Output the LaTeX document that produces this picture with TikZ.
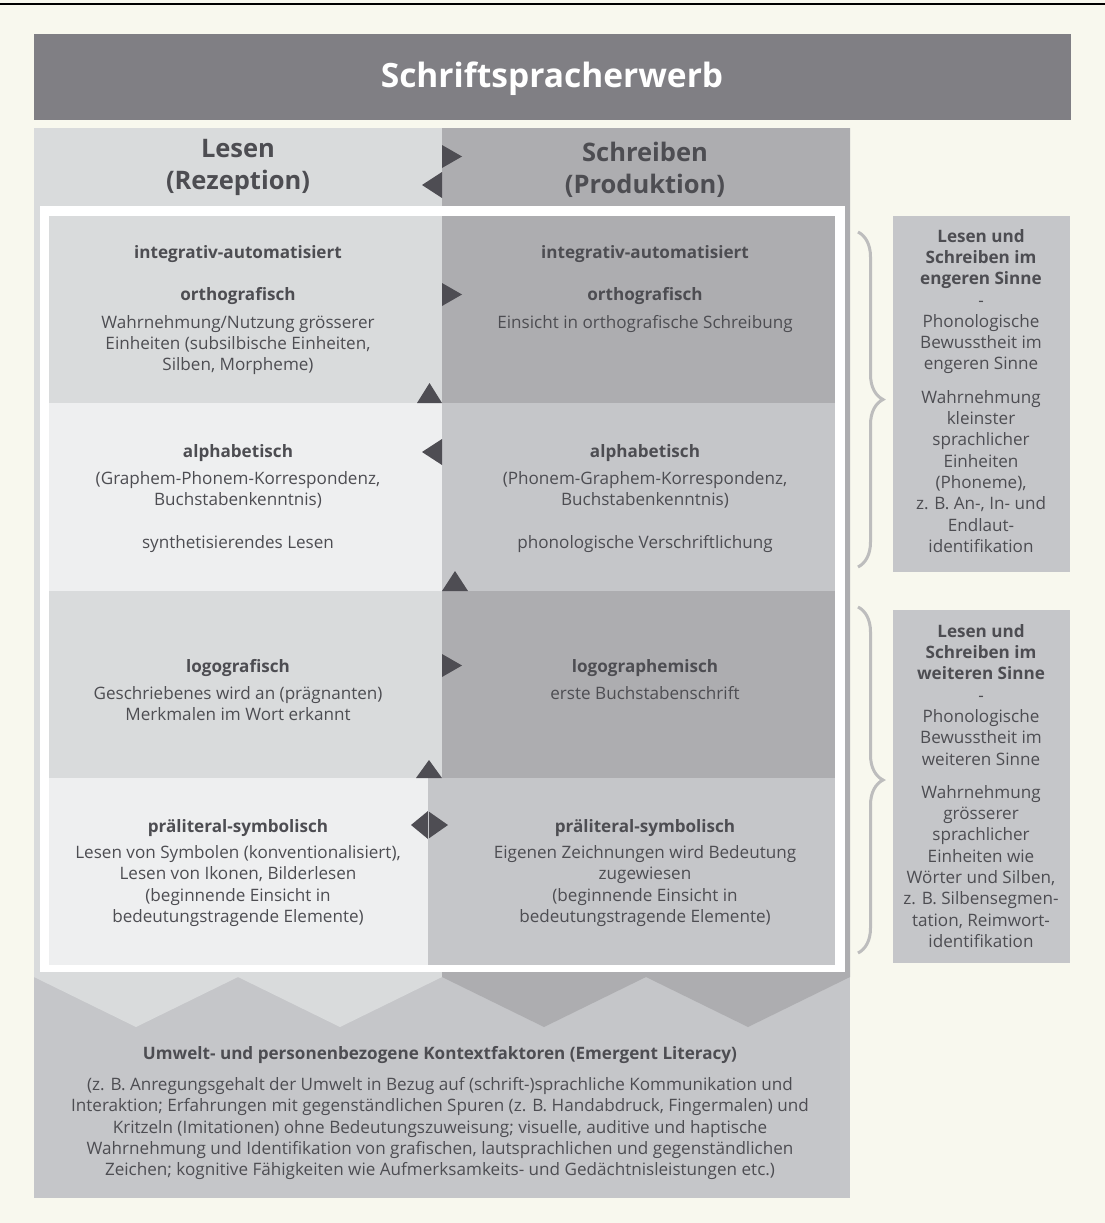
\documentclass[tikz,border=0pt]{standalone}
\usepackage{fontspec}
\setmainfont{Open Sans}
\usetikzlibrary{positioning,calc,decorations.pathreplacing}

\definecolor{bgcream}{HTML}{F8F8EE}
\definecolor{titlegray}{HTML}{807F84}
\definecolor{grayA}{HTML}{D9DBDC}
\definecolor{grayB}{HTML}{ADADB0}
\definecolor{grayC}{HTML}{EEEFF0}
\definecolor{grayD}{HTML}{C5C6C9}
\definecolor{arrowgray}{HTML}{4E4D53}
\definecolor{txtgray}{HTML}{4D4D52}
\definecolor{bracegray}{HTML}{BDBDBD}

\newcommand{\bodyfont}{\fontsize{17.1}{21.3}\selectfont}
\newcommand{\hdrfont}{\fontsize{25.5}{32}\selectfont\bfseries}
\newcommand{\titlefont}{\fontsize{33.5}{38}\selectfont\bfseries}

\begin{document}
\begin{tikzpicture}[x=1pt,y=-1pt,
    box/.style={inner sep=0pt,outer sep=0pt,anchor=north west},
    txt/.style={align=center,text=txtgray,font=\bodyfont,inner sep=0pt,anchor=north},
    hdr/.style={align=center,text=txtgray,font=\hdrfont,inner sep=0pt,anchor=north},
    tri/.style={fill=arrowgray},
    curly/.style={decorate,decoration={brace,amplitude=25pt},draw=bracegray,line width=3pt},
  ]

  % background and title
  \fill[bgcream] (0,0) rectangle (1105,1223);
  \useasboundingbox (0,0) rectangle (1105,1223);
  \draw[black,line width=1.5pt] (0,4) -- (1105,4);
  \node[box,fill=titlegray,minimum width=1037pt,minimum height=86pt] (title) at (34,34) {};
  \node[text=white,font=\titlefont,inner sep=0pt] (titletext) at (552,79) {Schriftspracherwerb};

  % columns with zigzag bottom
  \fill[grayD] (34,977) rectangle (850,1198);
  \fill[grayA] (34,128) -- (442,128) -- (442,977) -- (340,1027) -- (238,977) -- (136,1027) -- (34,977) -- cycle;
  \fill[grayB] (442,128) -- (850,128) -- (850,977) -- (748,1027) -- (646,977) -- (544,1027) -- (442,977) -- cycle;
  \node[hdr] (lesen) at (238,139) {Lesen\\(Rezeption)};
  \node[hdr] (schreiben) at (645,142) {Schreiben\\(Produktion)};

  % white frame and the four stages
  \node[box,fill=white,minimum width=805pt,minimum height=766pt] (frame) at (40,206) {};
  \node[box,fill=grayA,minimum width=393pt,minimum height=187pt] (orthL) at (49,216) {};
  \node[box,fill=grayB,minimum width=393pt,minimum height=187pt] (orthR) at (442,216) {};
  \node[box,fill=grayC,minimum width=393pt,minimum height=188pt] (alphaL) at (49,403) {};
  \node[box,fill=grayD,minimum width=393pt,minimum height=188pt] (alphaR) at (442,403) {};
  \node[box,fill=grayA,minimum width=393pt,minimum height=187pt] (logoL) at (49,591) {};
  \node[box,fill=grayB,minimum width=393pt,minimum height=187pt] (logoR) at (442,591) {};
  \node[box,fill=grayC,minimum width=379pt,minimum height=187pt] (prsL) at (49,778) {};
  \node[box,fill=grayD,minimum width=407pt,minimum height=187pt] (prsR) at (428,778) {};

  \node[txt] (orthLt) at (238,245) {\textbf{integrativ-automatisiert}\\[21.3pt]\textbf{orthografisch}\\[6pt]Wahrnehmung/Nutzung grösserer\\Einheiten (subsilbische Einheiten,\\Silben, Morpheme)};
  \node[txt] (orthRt) at (645,245) {\textbf{integrativ-automatisiert}\\[21.3pt]\textbf{orthografisch}\\[6pt]Einsicht in orthografische Schreibung};
  \node[txt] (alphaLt) at (238,444) {\textbf{alphabetisch}\\[6pt](Graphem-Phonem-Korrespondenz,\\Buchstabenkenntnis)\\[21.3pt]synthetisierendes Lesen};
  \node[txt] (alphaRt) at (645,444) {\textbf{alphabetisch}\\[6pt](Phonem-Graphem-Korrespondenz,\\Buchstabenkenntnis)\\[21.3pt]phonologische Verschriftlichung};
  \node[txt] (logoLt) at (238,659) {\textbf{logografisch}\\[6pt]Geschriebenes wird an (prägnanten)\\Merkmalen im Wort erkannt};
  \node[txt] (logoRt) at (645,659) {\textbf{logographemisch}\\[6pt]erste Buchstabenschrift};
  \node[txt] (prsLt) at (238,819) {\textbf{präliteral-symbolisch}\\[5pt]Lesen von Symbolen (konventionalisiert),\\Lesen von Ikonen, Bilderlesen\\(beginnende Einsicht in\\bedeutungstragende Elemente)};
  \node[txt] (prsRt) at (645,819) {\textbf{präliteral-symbolisch}\\[5pt]Eigenen Zeichnungen wird Bedeutung\\zugewiesen\\(beginnende Einsicht in\\bedeutungstragende Elemente)};

  % arrow heads between reading and writing
  \fill[tri] (442,145) -- (462,156.5) -- (442,168) -- cycle;
  \fill[tri] (442,172) -- (422,185) -- (442,198) -- cycle;
  \fill[tri] (orthR.north west) ++(0,67) -- ++(20,11.5) -- ++(-20,11.5) -- cycle;
  \fill[tri] (orthL.south east) ++(-25,0) -- ++(12.5,-20) -- ++(12.5,20) -- cycle;
  \fill[tri] (alphaR.north west) ++(0,36) -- ++(-20,13) -- ++(20,13) -- cycle;
  \fill[tri] (alphaR.south west) -- ++(13,-20) -- ++(13,20) -- cycle;
  \fill[tri] (logoR.north west) ++(0,63) -- ++(20,11.5) -- ++(-20,11.5) -- cycle;
  \fill[tri] (logoL.south east) ++(-26,0) -- ++(13,-18) -- ++(13,18) -- cycle;
  \fill[tri] (prsR.north west) ++(0,33) -- ++(-17,14) -- ++(17,14) -- cycle;
  \fill[tri] (prsR.north west) ++(0,33) -- ++(20,14) -- ++(-20,14) -- cycle;
  \draw[grayD,line width=0.6pt] (prsR.north west) ++(0,33) -- ++(0,28);

  % context factors
  \node[txt] (kontext) at (440,1046) {\textbf{Umwelt- und personenbezogene Kontextfaktoren (Emergent Literacy)}\\[10pt](z. B. Anregungsgehalt der Umwelt in Bezug auf (schrift-)sprachliche Kommunikation und\\Interaktion; Erfahrungen mit gegenständlichen Spuren (z. B. Handabdruck, Fingermalen) und\\Kritzeln (Imitationen) ohne Bedeutungszuweisung; visuelle, auditive und haptische\\Wahrnehmung und Identifikation von grafischen, lautsprachlichen und gegenständlichen\\Zeichen; kognitive Fähigkeiten wie Aufmerksamkeits- und Gedächtnisleistungen etc.)};

  % side notes
  \node[box,fill=grayD,minimum width=177pt,minimum height=356pt] (engen) at (893,216) {};
  \node[box,fill=grayD,minimum width=177pt,minimum height=353pt] (weiten) at (893,610) {};
  \node[txt] (engent) at (981,229) {\textbf{Lesen und}\\\textbf{Schreiben im}\\\textbf{engeren Sinne}\\-\\Phonologische\\Bewusstheit im\\engeren Sinne\\[12pt]Wahrnehmung\\kleinster\\sprachlicher\\Einheiten\\(Phoneme),\\z. B. An-, In- und\\Endlaut-\\identifikation};
  \node[txt] (weitent) at (981,624) {\textbf{Lesen und}\\\textbf{Schreiben im}\\\textbf{weiteren Sinne}\\-\\Phonologische\\Bewusstheit im\\weiteren Sinne\\[12pt]Wahrnehmung\\grösserer\\sprachlicher\\Einheiten wie\\Wörter und Silben,\\z. B. Silbensegmen-\\tation, Reimwort-\\identifikation};
  \draw[curly] (858,232) -- (858,567);
  \draw[curly] (858,607) -- (858,953);
\end{tikzpicture}
\end{document}
